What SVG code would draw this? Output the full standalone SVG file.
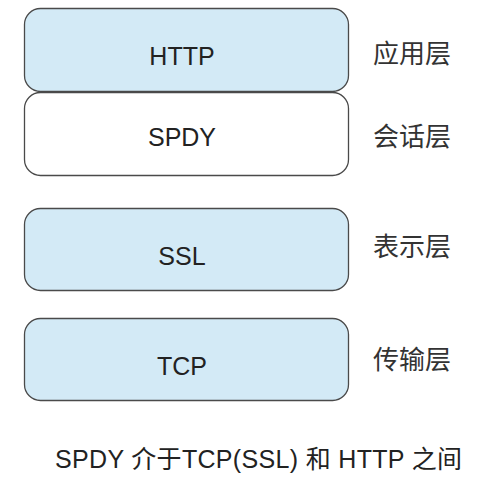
<svg xmlns="http://www.w3.org/2000/svg" width="504" height="489" viewBox="0 0 504 489">
<style>
.box{stroke:#4a4a4a;stroke-width:1.3}
.blue{fill:#d3eaf6}
.white{fill:#ffffff}
.t{font-family:"Liberation Sans","Noto Sans CJK SC",sans-serif;font-size:25px;fill:#222;text-anchor:middle}
.l{font-family:"Noto Sans CJK SC",sans-serif;font-size:26px;fill:#333}
.c{font-family:"Liberation Sans","Noto Sans CJK SC",sans-serif;font-size:25px;fill:#222}
</style>
<rect width="504" height="489" fill="#fff"/>
<g id="http"><rect class="box blue" x="24.5" y="8.5" width="324" height="83" rx="16"/><text class="t" x="182" y="65">HTTP</text></g>
<g id="spdy"><rect class="box white" x="24.5" y="92.5" width="324" height="83" rx="16"/><text class="t" x="182" y="146">SPDY</text></g>
<g id="ssl"><rect class="box blue" x="24.5" y="208.5" width="324" height="82" rx="16"/><text class="t" x="182" y="265">SSL</text></g>
<g id="tcp"><rect class="box blue" x="24.5" y="318.5" width="324" height="82" rx="16"/><text class="t" x="182" y="375">TCP</text></g>
<g id="connectors"></g>
<g id="labels">
<text class="l" x="373" y="63">应用层</text>
<text class="l" x="373" y="146">会话层</text>
<text class="l" x="373" y="256">表示层</text>
<text class="l" x="373" y="369">传输层</text>
<text class="c" x="55" y="468" textLength="407" lengthAdjust="spacing">SPDY 介于TCP(SSL) 和 HTTP 之间</text>
</g>
</svg>
